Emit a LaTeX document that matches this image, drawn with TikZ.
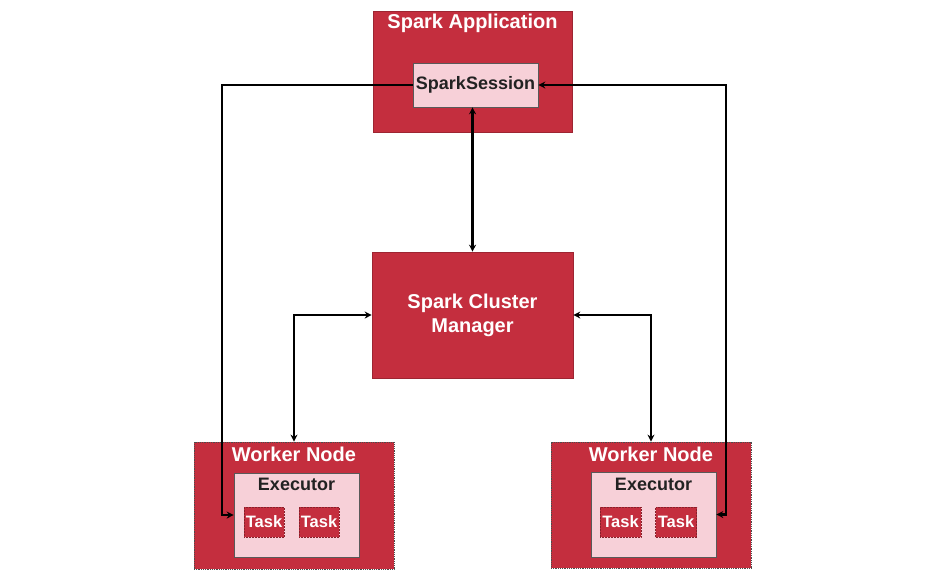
\documentclass[tikz,border=0pt]{standalone}
\usepackage{fontspec}
\setmainfont{Liberation Sans}
\usetikzlibrary{arrows.meta}
\definecolor{sred}{RGB}{196,46,62}
\definecolor{spink}{RGB}{247,208,216}
\definecolor{sdark}{RGB}{34,34,34}
\tikzset{
  redbox/.style={fill=sred, draw=sred!80!black, line width=0.6pt, inner sep=0pt},
  workerbox/.style={fill=sred, draw=gray!60!black, densely dotted, line width=0.8pt, inner sep=0pt},
  pinkbox/.style={fill=spink, draw=gray!70!black, line width=0.6pt, inner sep=0pt},
  taskbox/.style={fill=sred, draw=sred!70!black, densely dotted, line width=0.5pt, inner sep=0pt, text=white, font=\bfseries\fontsize{16.5}{18}\selectfont},
  wtitle/.style={text=white, font=\bfseries\fontsize{20}{22}\selectfont, inner sep=0pt},
  dtitle/.style={text=sdark, font=\bfseries\fontsize{18}{20}\selectfont, inner sep=0pt},
  conn/.style={line width=2.6pt, black, {Stealth[length=7pt,width=7pt]}-{Stealth[length=7pt,width=7pt]}},
  connr/.style={line width=2.6pt, black, -{Stealth[length=7pt,width=7pt]}}
}
\begin{document}
\begin{tikzpicture}[x=1pt,y=-1pt]
\useasboundingbox (0,0) rectangle (947,581);
% Spark Application
\node[redbox, minimum width=199pt, minimum height=121pt] (app) at (472.5,71.5) {};
\node[wtitle] (apptitle) at (472.5,23.5) {Spark Application};
\node[pinkbox, minimum width=125pt, minimum height=44pt, text=sdark, font=\bfseries\fontsize{18}{20}\selectfont] (ss) at (475.5,85) {SparkSession};
% Cluster manager
\node[redbox, minimum width=201pt, minimum height=126pt, wtitle, align=center] (cm) at (472.5,315) {Spark Cluster\\[2pt]Manager};
% Left worker
\node[workerbox, minimum width=200pt, minimum height=127pt] (lw) at (294,505.5) {};
\node[wtitle] (lwt) at (294,454.5) {Worker Node};
\node[pinkbox, minimum width=125pt, minimum height=84pt] (le) at (296.5,515) {};
\node[dtitle] (let) at (296.5,484.5) {Executor};
\node[taskbox, minimum width=40pt, minimum height=30pt] (lt1) at (264,522) {Task};
\node[taskbox, minimum width=40pt, minimum height=30pt] (lt2) at (319,522) {Task};
% Right worker
\node[workerbox, minimum width=200pt, minimum height=126pt] (rw) at (651,505) {};
\node[wtitle] (rwt) at (651,454.5) {Worker Node};
\node[pinkbox, minimum width=125pt, minimum height=85pt] (re) at (653.5,514.5) {};
\node[dtitle] (ret) at (653.5,484.5) {Executor};
\node[taskbox, minimum width=41pt, minimum height=30pt] (rt1) at (620.5,522) {Task};
\node[taskbox, minimum width=41pt, minimum height=30pt] (rt2) at (676,522) {Task};
% Connectors
\draw[conn] (ss.south -| cm.north) -- (cm.north);
\draw[conn] (cm.west) -| (lw.north);
\draw[conn] (cm.east) -| (rw.north);
\coordinate (lturn) at (222,85);
\coordinate (rturn) at (726,85);
\draw[connr] (ss.west) -- (lturn) |- (le.west);
\draw[conn] (ss.east) -- (rturn) |- (re.east);
\end{tikzpicture}
\end{document}
